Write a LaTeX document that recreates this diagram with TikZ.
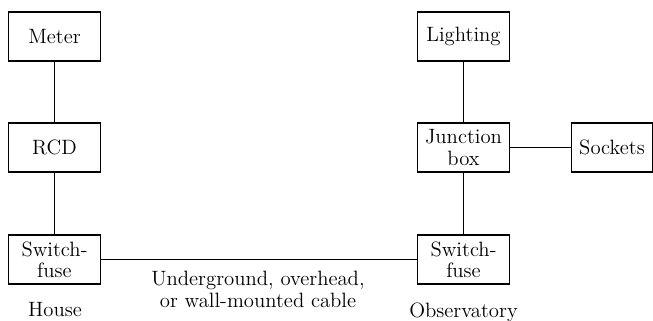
\documentclass[tikz,border=0pt]{standalone}
\usepackage{tikz}
\usetikzlibrary{positioning}

\begin{document}
\begin{tikzpicture}[box/.style={rectangle, draw, line width=0.6pt, minimum width=1.84cm, minimum height=0.98cm, inner sep=1pt, align=center, font=\fontsize{11.8}{12}\selectfont}, lbl/.style={align=center, font=\fontsize{11.8}{12.5}\selectfont}, line width=0.6pt]

\useasboundingbox (0,0) rectangle (13.06,6.4);

\node[box] (a) at (1.09, 5.67) {Meter};
\node[box] (b) at (1.09, 3.45) {RCD};
\node[box] (c) at (1.09, 1.21) {Switch-\\fuse};
\path[draw] (a) -- (b);
\path[draw] (b) -- (c);

\node[box] (d) at (9.27, 5.67) {Lighting};
\node[box] (e) at (9.27, 3.45) {Junction\\box};
\node[box] (f) at (9.27, 1.21) {Switch-\\fuse};
\node[box, minimum width=1.62cm] (g) at (12.24, 3.45) {Sockets};
\path[draw] (d) -- (e);
\path[draw] (e) -- (f);
\path[draw] (e) -- (g);

\path[draw] (c) -- (f);

\node[lbl] (h) at (1.1, 0.2) {House};
\node[lbl] (i) at (9.27, 0.16) {Observatory};
\node[lbl] (j) at (5.16, 0.62) {Underground, overhead,\\or wall-mounted cable};

\end{tikzpicture}
\end{document}
